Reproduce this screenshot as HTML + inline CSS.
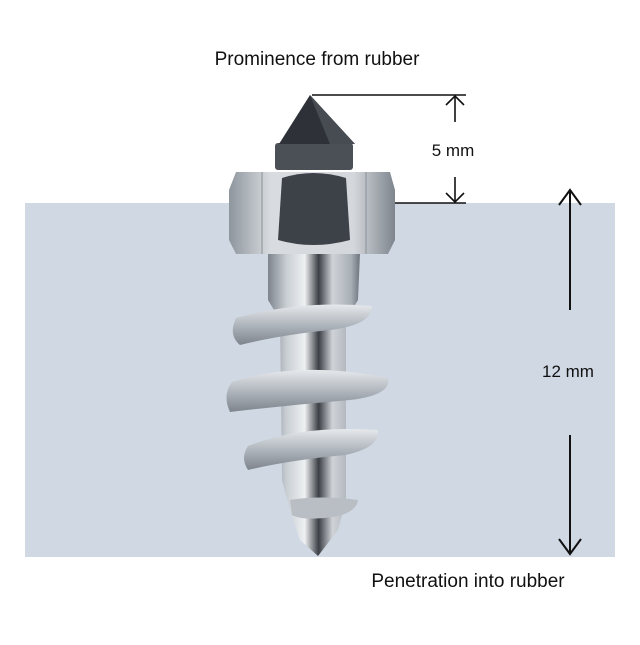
<!DOCTYPE html>
<html><head><meta charset="utf-8"><style>
body{margin:0;background:#fff;}
</style></head><body>
<svg width="640" height="640" viewBox="0 0 640 640" xmlns="http://www.w3.org/2000/svg" font-family="Liberation Sans, sans-serif">
<defs>
<linearGradient id="met" x1="0" x2="1" y1="0" y2="0">
<stop offset="0" stop-color="#7d848c"/><stop offset="0.2" stop-color="#c9ced3"/><stop offset="0.4" stop-color="#eef0f2"/><stop offset="0.55" stop-color="#3b3f45"/><stop offset="0.7" stop-color="#cfd3d8"/><stop offset="0.9" stop-color="#aab0b7"/><stop offset="1" stop-color="#6c737b"/>
</linearGradient>
<linearGradient id="nut" x1="0" x2="1">
<stop offset="0" stop-color="#8e959d"/><stop offset="0.25" stop-color="#d8dce0"/><stop offset="0.75" stop-color="#d4d8dc"/><stop offset="1" stop-color="#7e858d"/>
</linearGradient>
<linearGradient id="thr" x1="0" x2="0" y1="0" y2="1">
<stop offset="0" stop-color="#e6e9ec"/><stop offset="0.5" stop-color="#b0b6bd"/><stop offset="1" stop-color="#7d848c"/>
</linearGradient>
</defs>
<rect x="25" y="203" width="590" height="354" fill="#cfd8e3"/>
<text x="317" y="65" font-size="19" text-anchor="middle" fill="#111">Prominence from rubber</text>
<text x="468" y="587" font-size="19" text-anchor="middle" fill="#111">Penetration into rubber</text>
<text x="453" y="156" font-size="17" text-anchor="middle" fill="#111">5 mm</text>
<text x="568" y="377" font-size="17" text-anchor="middle" fill="#111">12 mm</text>
<g stroke="#111" stroke-width="1.6" fill="none">
<line x1="312" y1="95" x2="466" y2="95"/>
<line x1="393" y1="203" x2="466" y2="203"/>
<line x1="455" y1="96" x2="455" y2="122"/><polyline points="446,105 455,96 464,105"/>
<line x1="455" y1="177" x2="455" y2="202"/><polyline points="446,193 455,202 464,193"/>
<line x1="570" y1="190" x2="570" y2="310" stroke-width="2"/><polyline points="559,205 570,190 581,205" stroke-width="2"/>
<line x1="570" y1="435" x2="570" y2="554" stroke-width="2"/><polyline points="559,539 570,554 581,539" stroke-width="2"/>
</g>
<!-- screw body -->
<path d="M268 253 L360 253 L358 300 L346 320 L346 500 L338 530 L318 556 L300 540 L290 510 L282 480 L280 320 L268 300 Z" fill="url(#met)"/>
<!-- threads -->
<path d="M236 318 Q300 300 372 306 Q372 325 330 330 Q280 335 240 345 Q228 335 236 318 Z" fill="url(#thr)"/>
<path d="M232 382 Q300 360 388 378 Q392 395 350 400 Q290 405 230 412 Q222 395 232 382 Z" fill="url(#thr)"/>
<path d="M248 446 Q300 425 378 430 Q380 448 345 455 Q290 460 248 470 Q240 458 248 446 Z" fill="url(#thr)"/>
<path d="M290 500 Q320 495 358 500 Q356 515 325 518 Q300 520 292 515 Z" fill="#b9bec4"/>
<!-- nut -->
<path d="M236 172 L390 172 L395 190 L395 240 L388 254 L236 254 L229 240 L229 190 Z" fill="url(#nut)"/>
<path d="M282 178 Q313 168 346 178 L350 240 Q313 250 278 240 Z" fill="#3d4249"/>
<line x1="262" y1="172" x2="262" y2="254" stroke="#8a9199" stroke-width="1"/>
<line x1="366" y1="172" x2="366" y2="254" stroke="#8a9199" stroke-width="1"/>
<!-- collar & cone -->
<rect x="275" y="143" width="78" height="27" rx="3" fill="#4b5057"/>
<path d="M310 95 L279 144 L355 144 Z" fill="#2e3238"/>
<path d="M310 95 L330 144 L355 144 Z" fill="#474c53"/>
</svg>
</body></html>
